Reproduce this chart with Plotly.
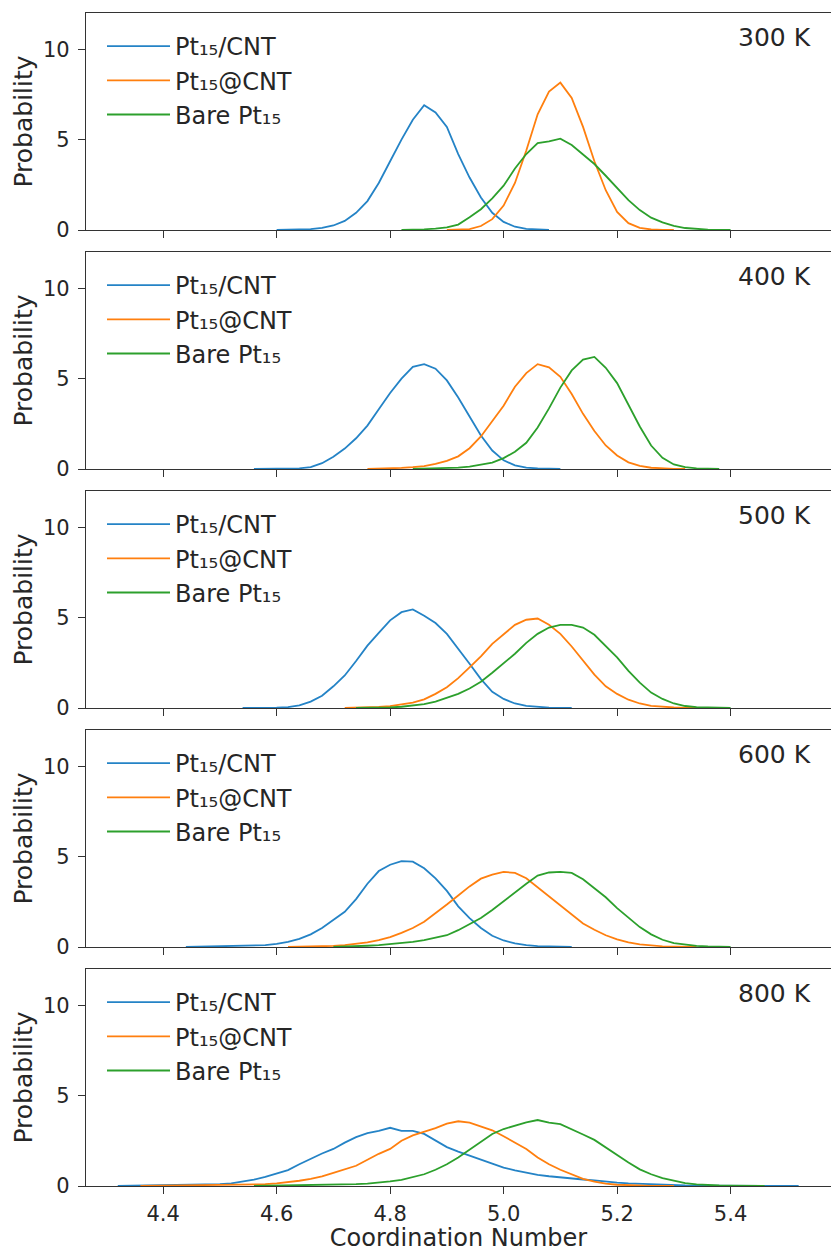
import numpy as np
import plotly.graph_objects as go
from plotly.subplots import make_subplots

# ---------------- data (probability density vs coordination number) ----------------
STEP = 0.02
TEMPS = ["300 K", "400 K", "500 K", "600 K", "800 K"]
SERIES_NAMES = ["Pt\u2081\u2085/CNT", "Pt\u2081\u2085@CNT", "Bare Pt\u2081\u2085"]
COLORS = ["#2483c6", "#ff7f0e", "#2ca02c"]
X_TICKS = [4.4, 4.6, 4.8, 5.0, 5.2, 5.4]
Y_TICKS = [0, 5, 10]

# 300 K
out_300_start = 4.60
out_300 = [0, 0.01, 0.02, 0.05, 0.12, 0.25, 0.5, 0.95, 1.6, 2.6, 3.8, 5.0, 6.1, 6.9, 6.5,
           5.7, 4.2, 2.9, 1.8, 0.95, 0.45, 0.18, 0.06, 0.02, 0]
in_300_start = 4.90
in_300 = [0, 0.01, 0.05, 0.22, 0.6, 1.35, 2.6, 4.4, 6.4, 7.65, 8.15, 7.3, 5.7, 3.8, 2.2,
          1.0, 0.38, 0.12, 0.03, 0.01, 0]
bare_300_start = 4.82
bare_300 = [0, 0.01, 0.04, 0.08, 0.15, 0.3, 0.7, 1.15, 1.75, 2.45, 3.4, 4.2, 4.8, 4.9, 5.05,
            4.7, 4.2, 3.65, 3.0, 2.3, 1.65, 1.1, 0.68, 0.42, 0.23, 0.11, 0.05, 0.02, 0.01, 0]

# 400 K
out_400_start = 4.56
out_400 = [0, 0, 0.01, 0.02, 0.04, 0.1, 0.32, 0.68, 1.13, 1.7, 2.4, 3.3, 4.2, 5.0, 5.65,
           5.8, 5.55, 4.9, 3.95, 2.9, 1.85, 1.02, 0.48, 0.2, 0.08, 0.03, 0.01, 0]
in_400_start = 4.76
in_400 = [0, 0.01, 0.03, 0.06, 0.1, 0.16, 0.28, 0.45, 0.7, 1.15, 1.8, 2.65, 3.5, 4.55, 5.3,
          5.8, 5.62, 5.1, 4.15, 3.05, 2.1, 1.3, 0.75, 0.37, 0.17, 0.07, 0.03, 0.01, 0]
bare_400_start = 4.84
bare_400 = [0, 0.01, 0.02, 0.04, 0.08, 0.13, 0.22, 0.35, 0.6, 0.95, 1.45, 2.3, 3.35, 4.5,
            5.45, 6.05, 6.2, 5.6, 4.75, 3.55, 2.35, 1.3, 0.62, 0.25, 0.1, 0.04, 0.01, 0]

# 500 K
out_500_start = 4.54
out_500 = [0, 0, 0.01, 0.02, 0.05, 0.15, 0.35, 0.68, 1.2, 1.8, 2.6, 3.45, 4.15, 4.85, 5.3,
           5.45, 5.1, 4.7, 4.1, 3.3, 2.45, 1.6, 0.9, 0.5, 0.25, 0.12, 0.05, 0.02, 0.01, 0]
in_500_start = 4.72
in_500 = [0, 0.01, 0.03, 0.06, 0.1, 0.18, 0.3, 0.48, 0.78, 1.15, 1.65, 2.25, 2.85, 3.55,
          4.1, 4.6, 4.88, 4.95, 4.6, 4.1, 3.4, 2.6, 1.85, 1.2, 0.78, 0.46, 0.25, 0.12, 0.06,
          0.03, 0.01, 0]
bare_500_start = 4.74
bare_500 = [0, 0, 0.01, 0.03, 0.07, 0.13, 0.22, 0.35, 0.55, 0.78, 1.08, 1.45, 1.95, 2.45,
            3.0, 3.6, 4.1, 4.45, 4.6, 4.6, 4.45, 4.05, 3.45, 2.8, 2.05, 1.4, 0.85, 0.5,
            0.25, 0.11, 0.05, 0.02, 0.01, 0]

# 600 K
out_600_start = 4.44
out_600 = [0, 0.01, 0.01, 0.02, 0.03, 0.04, 0.06, 0.1, 0.17, 0.28, 0.45, 0.7, 1.05, 1.5,
           1.95, 2.65, 3.5, 4.2, 4.55, 4.75, 4.72, 4.35, 3.8, 3.1, 2.25, 1.6, 1.05, 0.62,
           0.36, 0.2, 0.1, 0.05, 0.02, 0.01, 0]
in_600_start = 4.62
in_600 = [0, 0.01, 0.02, 0.04, 0.06, 0.1, 0.16, 0.25, 0.38, 0.55, 0.78, 1.05, 1.4, 1.85,
          2.35, 2.85, 3.35, 3.78, 4.0, 4.15, 4.1, 3.8, 3.3, 2.8, 2.3, 1.75, 1.3, 0.95, 0.65,
          0.42, 0.26, 0.15, 0.08, 0.04, 0.02, 0.01, 0]
bare_600_start = 4.70
bare_600 = [0, 0.01, 0.03, 0.07, 0.1, 0.15, 0.21, 0.28, 0.38, 0.5, 0.65, 0.93, 1.25, 1.6,
            2.05, 2.55, 3.05, 3.5, 3.95, 4.12, 4.15, 4.1, 3.75, 3.25, 2.75, 2.15, 1.6, 1.1,
            0.7, 0.4, 0.22, 0.12, 0.06, 0.03, 0.01, 0]

# 800 K
out_800_start = 4.32
out_800 = [0, 0.01, 0.01, 0.01, 0.02, 0.02, 0.03, 0.04, 0.06, 0.1, 0.15, 0.24, 0.35, 0.5,
           0.68, 0.88, 1.2, 1.5, 1.8, 2.05, 2.4, 2.7, 2.92, 3.05, 3.22, 3.05, 3.05, 2.88,
           2.52, 2.15, 1.9, 1.68, 1.42, 1.2, 1.02, 0.86, 0.72, 0.62, 0.54, 0.47, 0.41, 0.36,
           0.31, 0.24, 0.19, 0.15, 0.12, 0.09, 0.07, 0.05, 0.03, 0.02, 0.02, 0.01, 0.01,
           0.01, 0, 0, 0, 0, 0]
in_800_start = 4.36
in_800 = [0, 0.01, 0.01, 0.01, 0.02, 0.02, 0.03, 0.03, 0.04, 0.05, 0.07, 0.1, 0.14, 0.2,
          0.29, 0.4, 0.53, 0.72, 0.9, 1.12, 1.45, 1.78, 2.05, 2.5, 2.8, 3.0, 3.2, 3.45, 3.58,
          3.5, 3.3, 3.08, 2.75, 2.4, 2.05, 1.58, 1.2, 0.9, 0.64, 0.4, 0.24, 0.13, 0.07, 0.04,
          0.02, 0.01, 0.01, 0]
bare_800_start = 4.56
bare_800 = [0, 0.01, 0.01, 0.02, 0.02, 0.03, 0.04, 0.05, 0.07, 0.1, 0.13, 0.18, 0.25, 0.34,
            0.48, 0.65, 0.9, 1.2, 1.57, 2.0, 2.42, 2.88, 3.15, 3.35, 3.52, 3.65, 3.5, 3.42,
            3.15, 2.85, 2.55, 2.12, 1.7, 1.3, 0.92, 0.65, 0.44, 0.28, 0.16, 0.09, 0.05, 0.03,
            0.02, 0.01, 0.01, 0]

PANELS = [
    [(out_300_start, out_300), (in_300_start, in_300), (bare_300_start, bare_300)],
    [(out_400_start, out_400), (in_400_start, in_400), (bare_400_start, bare_400)],
    [(out_500_start, out_500), (in_500_start, in_500), (bare_500_start, bare_500)],
    [(out_600_start, out_600), (in_600_start, in_600), (bare_600_start, bare_600)],
    [(out_800_start, out_800), (in_800_start, in_800), (bare_800_start, bare_800)],
]

# ---------------- figure ----------------
W, H = 831, 1252
ML, MR, MT, MB = 86, 0, 13, 66
PLOT_H = H - MT - MB
GAP = 22
FONT = "DejaVu Sans"
TXT = "#262626"
LINE = "#333333"

fig = make_subplots(rows=5, cols=1, shared_xaxes=True, vertical_spacing=GAP / PLOT_H)

for r, panel in enumerate(PANELS, start=1):
    leg = "legend" if r == 1 else f"legend{r}"
    for (start, vals), name, col in zip(panel, SERIES_NAMES, COLORS):
        x = np.round(start + STEP * np.arange(len(vals)), 3)
        fig.add_trace(go.Scatter(x=x, y=vals, mode="lines", name=name,
                                 line=dict(color=col, width=1.8),
                                 legend=leg, showlegend=True), row=r, col=1)

for r in range(1, 6):
    sfx = "" if r == 1 else str(r)
    ydom = fig.layout[f"yaxis{sfx}"].domain
    top = ydom[1]
    leg = "legend" if r == 1 else f"legend{r}"
    fig.update_layout({leg: dict(x=(102 - ML) / (W - ML - MR), xanchor="left",
                                 y=top - 11 / PLOT_H, yanchor="top",
                                 bgcolor="rgba(0,0,0,0)", borderwidth=0,
                                 itemwidth=63, tracegroupgap=0,
                                 font=dict(family=FONT, size=24, color=TXT))})
    fig.add_annotation(text=TEMPS[r - 1], showarrow=False,
                       xref=f"x{sfx} domain", yref=f"y{sfx} domain",
                       x=1, y=1, xanchor="right", yanchor="middle",
                       xshift=-18, yshift=-24,
                       font=dict(family=FONT, size=25, color=TXT))

fig.update_xaxes(range=[4.264, 5.577], tickvals=X_TICKS, ticktext=[f"{v:.1f}" for v in X_TICKS],
                 ticks="outside", ticklen=7, tickwidth=1.2, tickcolor=LINE,
                 showline=True, linecolor=LINE, linewidth=1.3, mirror=True,
                 showgrid=False, zeroline=False,
                 tickfont=dict(family=FONT, size=21, color=TXT))
fig.update_xaxes(ticklabelstandoff=2,
                 title=dict(text="Coordination Number", font=dict(family=FONT, size=24, color=TXT),
                            standoff=8), row=5, col=1)
fig.update_yaxes(range=[0, 12], tickvals=Y_TICKS, ticks="outside", ticklen=7, tickwidth=1.2,
                 tickcolor=LINE, showline=True, linecolor=LINE, linewidth=1.3, mirror=True,
                 showgrid=False, zeroline=False, ticklabelstandoff=4,
                 tickfont=dict(family=FONT, size=21, color=TXT),
                 title=dict(text="Probability", font=dict(family=FONT, size=25, color=TXT),
                            standoff=3))

fig.update_layout(width=W, height=H, margin=dict(l=ML, r=MR, t=MT, b=MB, autoexpand=False),
                  paper_bgcolor="white", plot_bgcolor="white",
                  font=dict(family=FONT, color=TXT))

fig.write_html("out.html")
